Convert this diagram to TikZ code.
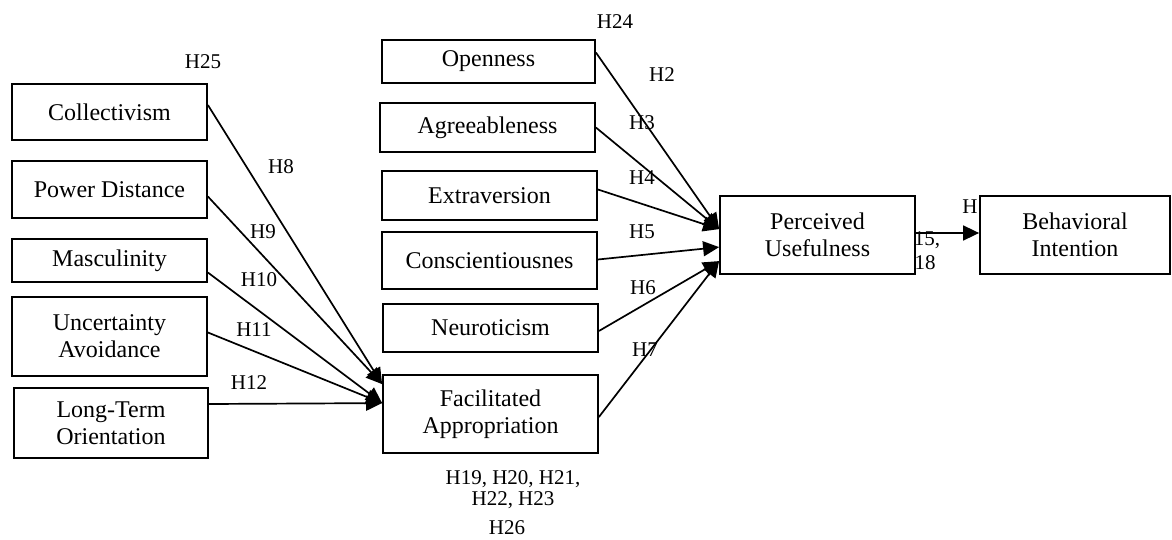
\documentclass[tikz,border=0pt]{standalone}
\usepackage{fontspec}
\setmainfont{Liberation Serif}
\usetikzlibrary{arrows.meta}
\begin{document}
\begin{tikzpicture}[x=1pt,y=-1pt,
  box/.style={draw, line width=1.8pt, fill=white, align=center, inner sep=0pt,
    font=\fontsize{24}{27}\selectfont},
  lbl/.style={inner sep=0pt, align=center, font=\fontsize{21}{21}\selectfont},
  arr/.style={-{Triangle[length=16pt,width=15pt]}, line width=1.7pt}]
\useasboundingbox (0,0) rectangle (1172,540);
% labels
\node[lbl] (l25) at (203,62) {H25};
\node[lbl] (l8) at (281,167) {H8};
\node[lbl] (l9) at (263,232) {H9};
\node[lbl] (l10) at (259,280) {H10};
\node[lbl] (l11) at (254,330) {H11};
\node[lbl] (l12) at (249,383) {H12};
\node[lbl] (l24) at (615,22) {H24};
\node[lbl] (l2) at (662,75) {H2};
\node[lbl] (l3) at (642,123) {H3};
\node[lbl] (l4) at (642,178) {H4};
\node[lbl] (l5) at (642,232) {H5};
\node[lbl] (l6) at (643,288) {H6};
\node[lbl] (l7) at (645,350) {H7};
\node[lbl] (l19) at (513,490) {H19, H20, H21,\\H22, H23};
\node[lbl] (l26) at (507,528) {H26};
\node[lbl] (lH) at (970,207) {H};
\node[lbl] (l15) at (927,240) {15,};
\node[lbl] (l18) at (925,263) {18};
% boxes
\node[box, minimum width=195pt, minimum height=56pt] (coll) at (109.5,112) {Collectivism};
\node[box, minimum width=195pt, minimum height=57pt] (pd) at (109.5,189.5) {Power Distance};
\node[box, minimum width=195pt, minimum height=43pt] (masc) at (109.5,260.5) {Masculinity};
\node[box, minimum width=195pt, minimum height=79pt] (ua) at (109.5,336.5) {Uncertainty\\Avoidance};
\node[box, minimum width=194pt, minimum height=70pt] (lto) at (111,423) {Long-Term\\Orientation};
\node[box, minimum width=213pt, minimum height=43pt] (open) at (488.5,61.5) {Openness};
\node[box, minimum width=215pt, minimum height=49pt] (agree) at (487.5,127.5) {Agreeableness};
\node[box, minimum width=215pt, minimum height=49pt] (extra) at (489.5,195.5) {Extraversion};
\node[box, minimum width=215pt, minimum height=57pt] (consc) at (489.5,260.5) {Conscientiousnes};
\node[box, minimum width=215pt, minimum height=48pt] (neuro) at (490.5,328) {Neuroticism};
\node[box, minimum width=215pt, minimum height=78pt] (fa) at (490.5,414) {Facilitated\\Appropriation};
\node[box, minimum width=195pt, minimum height=78pt] (pu) at (817.5,235) {Perceived\\Usefulness};
\node[box, minimum width=190pt, minimum height=78pt] (bi) at (1075,235) {Behavioral\\Intention};
% target points
\coordinate (faA) at ([yshift=-10pt]fa.north west);
\coordinate (faB) at ([yshift=-29pt]fa.north west);
\coordinate (puA) at ([yshift=-34pt]pu.north west);
\coordinate (puB) at ([yshift=-52pt]pu.north west);
\coordinate (puC) at ([yshift=-66pt]pu.north west);
% connectors
\draw[arr] ([yshift=7pt]coll.east) -- (faA);
\draw[arr] ([yshift=-7pt]pd.east) -- (faA);
\draw[arr] ([yshift=-12pt]masc.east) -- (faB);
\draw[arr] ([yshift=4pt]ua.east) -- (faB);
\draw[arr] ([yshift=19pt]lto.east) -- (faB);
\draw[arr] ([yshift=9pt]open.east) -- (puA);
\draw[arr] (agree.east) -- (puA);
\draw[arr] ([yshift=6pt]extra.east) -- (puA);
\draw[arr] ([yshift=1pt]consc.east) -- (puB);
\draw[arr] ([yshift=-3pt]neuro.east) -- (puC);
\draw[arr] ([yshift=-3pt]fa.east) -- (puC);
\draw[arr] ([yshift=2pt]pu.east) -- ([yshift=2pt]bi.west);
\end{tikzpicture}
\end{document}
